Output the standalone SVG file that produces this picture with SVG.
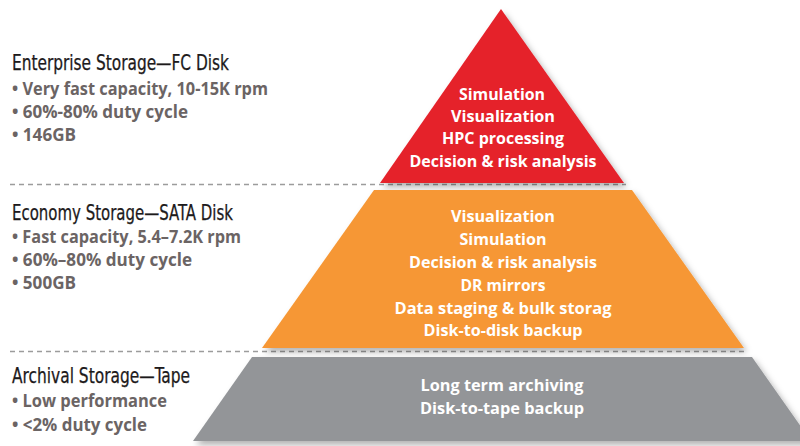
<svg xmlns="http://www.w3.org/2000/svg" width="800" height="446" viewBox="0 0 800 446">
  <defs>
    <filter id="shadow" x="-10%" y="-10%" width="125%" height="130%">
      <feDropShadow dx="3" dy="4" stdDeviation="3" flood-color="#000" flood-opacity="0.3"/>
    </filter>
  </defs>
  <style>
    .title { font-family: "Liberation Sans Narrow", "DejaVu Sans Condensed", "Liberation Sans", sans-serif; font-size: 20.5px; fill: #1d1a1b; font-stretch: condensed; stroke: #1d1a1b; stroke-width: 0.25; }
    .bullet { font-family: "Open Sans", "Noto Sans", "Liberation Sans", sans-serif; font-size: 17px; font-weight: 700; fill: #6b6464; }
    .tier { font-family: "Open Sans", "Noto Sans", "Liberation Sans", sans-serif; font-size: 16px; font-weight: 700; fill: #ffffff; text-anchor: middle; }
    .sep { stroke: #9c9c9c; stroke-width: 1.3; stroke-dasharray: 5 4; fill: none; }
  </style>
  <rect width="800" height="446" fill="#ffffff"/>

  <g id="connectors">
    <line class="sep" x1="10" y1="184.5" x2="626" y2="184.5"/>
    <line class="sep" x1="10" y1="351.5" x2="745" y2="351.5"/>
  </g>

  <g id="tier-enterprise">
    <polygon points="501,9 624,183 380,183" fill="#e5202a" filter="url(#shadow)"/>
    <text class="tier" x="502" y="100" textLength="86" lengthAdjust="spacingAndGlyphs">Simulation</text>
    <text class="tier" x="503" y="122" textLength="104" lengthAdjust="spacingAndGlyphs">Visualization</text>
    <text class="tier" x="503" y="144" textLength="122" lengthAdjust="spacingAndGlyphs">HPC processing</text>
    <text class="tier" x="503" y="167" textLength="187" lengthAdjust="spacingAndGlyphs">Decision &amp; risk analysis</text>
  </g>

  <g id="tier-economy">
    <polygon points="374,190 632,190 744,348 262,348" fill="#f69734" filter="url(#shadow)"/>
    <text class="tier" x="503" y="222" textLength="104" lengthAdjust="spacingAndGlyphs">Visualization</text>
    <text class="tier" x="503" y="245" textLength="87" lengthAdjust="spacingAndGlyphs">Simulation</text>
    <text class="tier" x="503" y="268" textLength="188" lengthAdjust="spacingAndGlyphs">Decision &amp; risk analysis</text>
    <text class="tier" x="503" y="291" textLength="85" lengthAdjust="spacingAndGlyphs">DR mirrors</text>
    <text class="tier" x="503" y="314" textLength="217" lengthAdjust="spacingAndGlyphs">Data staging &amp; bulk storag</text>
    <text class="tier" x="503" y="336" textLength="159" lengthAdjust="spacingAndGlyphs">Disk-to-disk backup</text>
  </g>

  <g id="tier-archival">
    <polygon points="252,357 752,357 811,441 193,441" fill="#939598" filter="url(#shadow)"/>
    <text class="tier" x="502" y="391" textLength="163" lengthAdjust="spacingAndGlyphs">Long term archiving</text>
    <text class="tier" x="502" y="414" textLength="164" lengthAdjust="spacingAndGlyphs">Disk-to-tape backup</text>
  </g>

  <g id="label-enterprise">
    <text class="title" x="12" y="70" textLength="217" lengthAdjust="spacingAndGlyphs">Enterprise Storage—FC Disk</text>
    <text class="bullet" x="12" y="95" textLength="256" lengthAdjust="spacingAndGlyphs">• Very fast capacity, 10-15K rpm</text>
    <text class="bullet" x="12" y="118" textLength="176" lengthAdjust="spacingAndGlyphs">• 60%-80% duty cycle</text>
    <text class="bullet" x="12" y="141" textLength="64" lengthAdjust="spacingAndGlyphs">• 146GB</text>
  </g>

  <g id="label-economy">
    <text class="title" x="12" y="220" textLength="221" lengthAdjust="spacingAndGlyphs">Economy Storage—SATA Disk</text>
    <text class="bullet" x="12" y="243" textLength="229" lengthAdjust="spacingAndGlyphs">• Fast capacity, 5.4–7.2K rpm</text>
    <text class="bullet" x="12" y="266" textLength="180" lengthAdjust="spacingAndGlyphs">• 60%–80% duty cycle</text>
    <text class="bullet" x="12" y="289" textLength="64" lengthAdjust="spacingAndGlyphs">• 500GB</text>
  </g>

  <g id="label-archival">
    <text class="title" x="12" y="383" textLength="178" lengthAdjust="spacingAndGlyphs">Archival Storage—Tape</text>
    <text class="bullet" x="12" y="407" textLength="155" lengthAdjust="spacingAndGlyphs">• Low performance</text>
    <text class="bullet" x="12" y="431" textLength="135" lengthAdjust="spacingAndGlyphs">• &lt;2% duty cycle</text>
  </g>
</svg>
